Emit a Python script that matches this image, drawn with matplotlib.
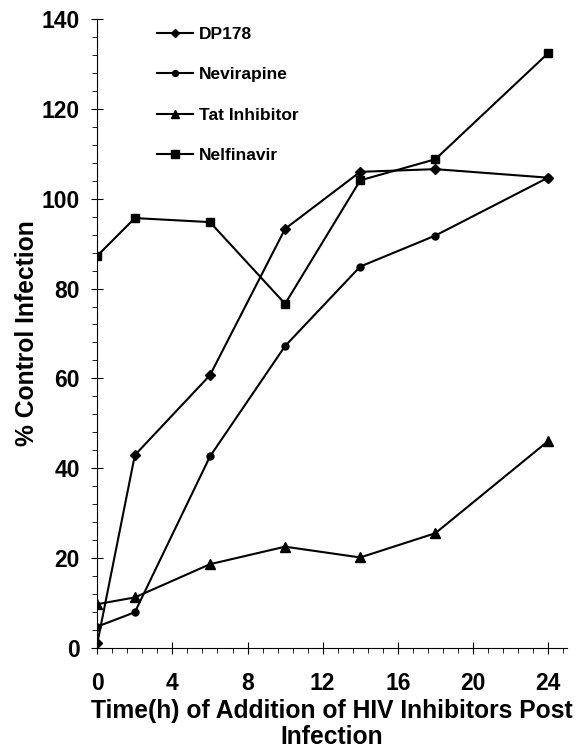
import matplotlib
matplotlib.use("Agg")
import matplotlib.pyplot as plt
from matplotlib.ticker import MultipleLocator

plt.rcParams['font.family'] = ['Liberation Sans', 'DejaVu Sans']
plt.rcParams['font.weight'] = 'bold'

hours = [0, 2, 6, 10, 14, 18, 24]
dp178 = [1.0, 42.9, 60.7, 93.3, 106.0, 106.6, 104.7]
nevirapine = [4.7, 7.9, 42.6, 67.2, 84.9, 91.8, 104.7]
tat_inhibitor = [9.7, 11.2, 18.6, 22.5, 20.1, 25.5, 46.0]
nelfinavir = [87.3, 95.7, 94.8, 76.6, 104.1, 108.8, 132.4]

series_names = ["DP178", "Nevirapine", "Tat Inhibitor", "Nelfinavir"]
x_ticks = [0, 4, 8, 12, 16, 20, 24]
y_ticks = [0, 20, 40, 60, 80, 100, 120, 140]

fig = plt.figure(figsize=(5.88, 7.51), dpi=100)
ax = fig.add_axes([97.3/588, 1-647.7/751, (566.8-97.3)/588, (647.7-19.2)/751])

lw = 1.5
ax.plot(hours, dp178, color='black', lw=lw, marker='D', ms=5, label=series_names[0])
ax.plot(hours, nevirapine, color='black', lw=lw, marker='o', ms=5, label=series_names[1])
ax.plot(hours, tat_inhibitor, color='black', lw=lw, marker='^', ms=6.5, label=series_names[2])
ax.plot(hours, nelfinavir, color='black', lw=lw, marker='s', ms=6, label=series_names[3])

ax.set_xlim(0, 25)
ax.set_ylim(0, 140)
ax.set_xticks(x_ticks)
ax.set_yticks(y_ticks)
ax.xaxis.set_minor_locator(MultipleLocator(0.8))
ax.yaxis.set_minor_locator(MultipleLocator(4))
ax.spines['top'].set_visible(False)
ax.spines['right'].set_visible(False)
for s in ('left', 'bottom'):
    ax.spines[s].set_linewidth(0.8)
ax.tick_params(axis='both', which='major', direction='inout', length=9, width=0.8, labelsize=16.5)
ax.tick_params(axis='both', which='minor', direction='out', length=3.5, width=0.6)
ax.tick_params(axis='x', which='major', pad=13)
ax.tick_params(axis='y', which='major', pad=8)
for lab in ax.get_xticklabels() + ax.get_yticklabels():
    lab.set_fontweight('bold')

ax.set_xlabel("Time(h) of Addition of HIV Inhibitors Post\nInfection", fontsize=17.7, fontweight='bold', labelpad=3, linespacing=1.08)
ax.set_ylabel("% Control Infection", fontsize=17.7, fontweight='bold', labelpad=2)

leg = ax.legend(loc='upper left', bbox_to_anchor=(157/588, 1-26.5/751), bbox_transform=fig.transFigure,
                frameon=False, borderpad=0, borderaxespad=0, handlelength=2.1, handletextpad=0.32,
                labelspacing=1.46, markerscale=0.85, prop={'size': 12.5, 'weight': 'bold'})

fig.savefig("out.png", dpi=100)
